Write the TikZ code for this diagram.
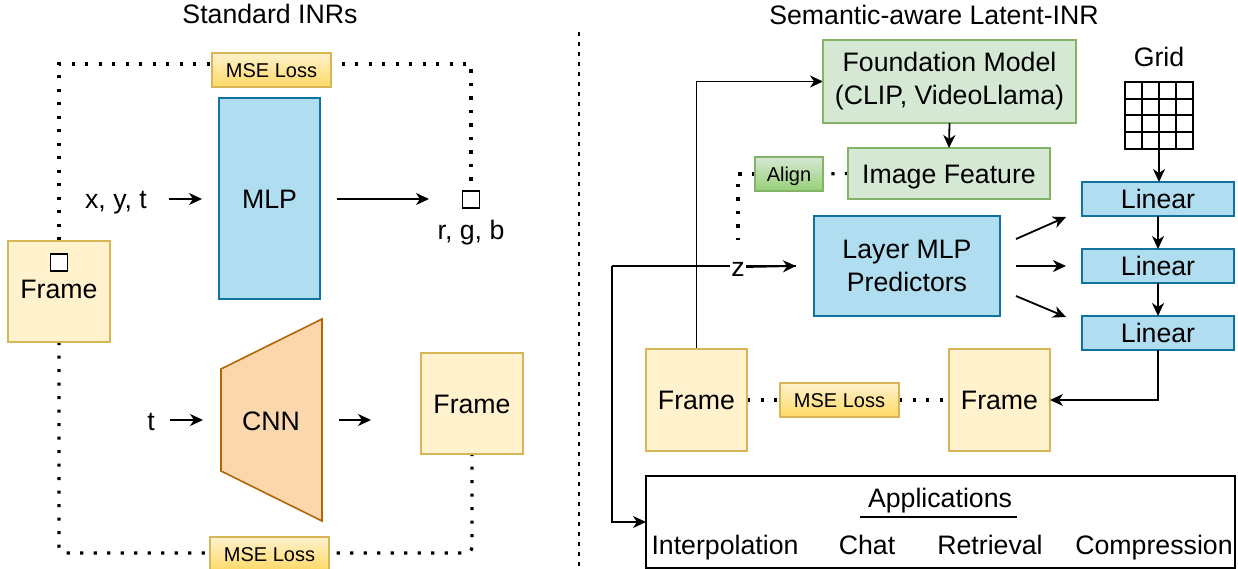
\documentclass[tikz,border=0pt]{standalone}
\usepackage{fontspec}
\setmainfont{Liberation Sans}
\usetikzlibrary{arrows.meta,backgrounds,calc}
\definecolor{yelF}{HTML}{FFF2CC}
\definecolor{yelS}{HTML}{D6B656}
\definecolor{yelG}{HTML}{FFD966}
\definecolor{bluF}{HTML}{B1DDF0}
\definecolor{bluS}{HTML}{10739E}
\definecolor{grnF}{HTML}{D5E8D4}
\definecolor{grnS}{HTML}{82B366}
\definecolor{grnG}{HTML}{97D077}
\definecolor{orgF}{HTML}{FAD7AC}
\definecolor{orgS}{HTML}{B46504}
\newcommand\bigf{\fontsize{26.7}{33}\selectfont}
\newcommand\smallf{\fontsize{20}{24}\selectfont}
\begin{document}
\begin{tikzpicture}[x=1pt,y=-1pt,
  every node/.style={inner sep=0pt,outer sep=0pt},
  txt/.style={font=\bigf, text height=19.1pt, text depth=0pt},
  stxt/.style={font=\smallf, text height=14.3pt, text depth=0pt},
  bx/.style={draw, line width=1.6pt, align=center},
  yelbox/.style={bx, txt, fill=yelF, draw=yelS},
  lossbox/.style={bx, stxt, draw=yelS, top color=yelF, bottom color=yelG},
  bluebox/.style={bx, fill=bluF, draw=bluS},
  greenbox/.style={bx, fill=grnF, draw=grnS},
  sqbox/.style={draw, line width=1.6pt, fill=white, minimum size=17pt},
  arr/.style={line width=1.8pt, -{Stealth[length=13pt,width=12pt,inset=4pt]}},
  dotline/.style={line width=3.2pt, dash pattern=on 3.2pt off 10.3pt},
  sepline/.style={line width=1.5pt, dash pattern=on 4pt off 6pt},
]
\useasboundingbox (0,0) rectangle (1238,569);

% ---------- titles ----------
\node[txt] (t1) at (270,14) {Standard INRs};
\node[txt] (t2) at (934,14.5) {Semantic-aware Latent-INR};
\draw[sepline] (579,32) -- (579,569);

% ---------- left panel ----------
\node[yelbox, text depth=5pt, minimum width=102pt, minimum height=101pt] (lfr) at (59,291.5) {Frame};
\node[sqbox] (sqL) at (59,262.5) {};
\node[bluebox, txt, minimum width=101pt, minimum height=201pt] (mlp) at (269.5,198.5) {MLP};
\node[txt] (xyt) at (116,199) {x, y, t};
\node[sqbox] (sqR) at (471,199.5) {};
\node[txt] (rgb) at (471,230) {r, g, b};
\node[lossbox, minimum width=119pt, minimum height=34pt] (loss1) at (271.5,70) {MSE Loss};

\draw[line width=1.6pt, draw=orgS, fill=orgF] (221,369) -- (322,319) -- (322,521) -- (221,471) -- cycle;
\node[txt] (cnn) at (271,421) {CNN};
\node[txt] (tin) at (151,421) {t};
\node[yelbox, minimum width=102pt, minimum height=101pt] (rfr) at (472,403.5) {Frame};
\node[lossbox, minimum width=119pt, minimum height=34pt] (loss2) at (269.5,554) {MSE Loss};

\coordinate (a1s) at (169,199); \coordinate (a1e) at (202,199);
\coordinate (a2s) at (337,199); \coordinate (a2e) at (429,199);
\coordinate (a3s) at (170,420); \coordinate (a3e) at (203,420);
\coordinate (a4s) at (339,420); \coordinate (a4e) at (371,420);
\coordinate (topY) at (0,64);
\coordinate (botY) at (0,553);

% ---------- right panel ----------
\node[greenbox, font=\bigf, minimum width=253pt, minimum height=83pt] (found) at (949.5,81.5) {Foundation Model\\(CLIP, VideoLlama)};
\node[greenbox, txt, minimum width=202pt, minimum height=51pt] (imgf) at (949,173.5) {Image Feature};
\node[bx, stxt, draw=grnS, top color=grnF, bottom color=grnG, minimum width=68pt, minimum height=34pt] (align) at (789,174) {Align};
\node[bluebox, font=\bigf, minimum width=186pt, minimum height=100pt] (lmp) at (907,266) {Layer MLP\\Predictors};
\node[txt] (gridt) at (1159,57) {Grid};
\node[draw, line width=2pt, minimum width=68pt, minimum height=67pt] (grid) at (1159,115.5) {};
\foreach \i in {1,2,3} {
  \draw[line width=2pt] ($(grid.north west)!\i/4!(grid.north east)$) -- ($(grid.south west)!\i/4!(grid.south east)$);
  \draw[line width=2pt] ($(grid.north west)!\i/4!(grid.south west)$) -- ($(grid.north east)!\i/4!(grid.south east)$);
}
\node[bluebox, txt, minimum width=152pt, minimum height=34pt] (lin1) at (1158,199) {Linear};
\node[bluebox, txt, minimum width=152pt, minimum height=34pt] (lin2) at (1158,266) {Linear};
\node[bluebox, txt, minimum width=152pt, minimum height=34pt] (lin3) at (1158,333) {Linear};

\node[yelbox, minimum width=101pt, minimum height=102pt] (rf1) at (696.5,400) {Frame};
\node[lossbox, minimum width=119pt, minimum height=34pt] (mse3) at (839.5,400) {MSE Loss};
\node[yelbox, minimum width=101pt, minimum height=102pt] (rf2) at (999.5,400) {Frame};

\node[bx, draw=black, minimum width=589pt, minimum height=92pt] (apps) at (940.5,522) {};
\node[txt] (appt) at (940,498) {Applications};
\draw[line width=1.6pt] (860,517) -- (1017,517);
\node[txt] (w1) at (725,545) {Interpolation};
\node[txt] (w2) at (867,545) {Chat};
\node[txt] (w3) at (990,545) {Retrieval};
\node[txt] (w4) at (1154,545) {Compression};

\coordinate (zL) at (612,266);
\coordinate (zE) at (796,266);
\coordinate (zdot) at (738,240);
\coordinate (alc) at (738,174);
\coordinate (p1s) at (1016,239); \coordinate (p1e) at (1066,217);
\coordinate (p2s) at (1016,266); \coordinate (p2e) at (1066,266);
\coordinate (p3s) at (1016,296); \coordinate (p3e) at (1066,317);

\begin{pgfonlayer}{background}
  % left panel
  \draw[dotline] (sqL.north) -- (sqL.north |- topY) -- (sqR.north |- topY) -- (sqR.north);
  \draw[dotline, rounded corners=6pt] (lfr.south) -- (lfr.south |- botY) -- (rfr.south |- botY) -- (rfr.south);
  % right panel
  \draw[line width=1.8pt] (zL) -- (zE);
  \draw[arr] (zL) |- (apps.west);
  \draw[arr] (rf1.north) |- (found.west);
  \draw[dotline] (imgf.west) -- (align.east);
  \draw[dotline] (align.west) -- (alc) -- (zdot);
  \draw[dotline] (rf1.east) -- (mse3.west);
  \draw[dotline] (mse3.east) -- (rf2.west);
\end{pgfonlayer}

\node[txt, fill=white, inner xsep=1.5pt] (z) at (738,267) {z};
\draw[arr] (z.east) -- (zE);

\draw[arr] (a1s) -- (a1e);
\draw[arr] (a2s) -- (a2e);
\draw[arr] (a3s) -- (a3e);
\draw[arr] (a4s) -- (a4e);

\draw[arr] (found.south) -- (imgf.north);
\draw[arr] (grid.south) -- (grid.south |- lin1.north);
\draw[arr] (lin1.south) -- (lin2.north);
\draw[arr] (lin2.south) -- (lin3.north);
\draw[arr] (lin3.south) |- (rf2.east);
\draw[arr] (p1s) -- (p1e);
\draw[arr] (p2s) -- (p2e);
\draw[arr] (p3s) -- (p3e);
\end{tikzpicture}
\end{document}
